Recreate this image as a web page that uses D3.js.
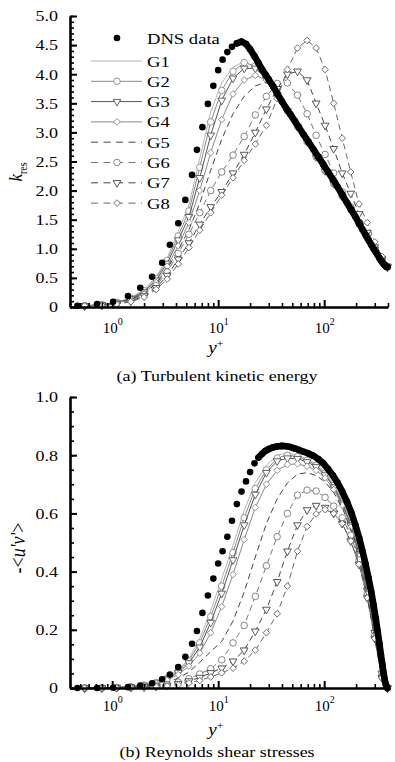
<!DOCTYPE html>
<html>
<head>
<meta charset="utf-8">
<script src="https://cdn.jsdelivr.net/npm/d3@7"></script>
<style>
  html, body { margin: 0; padding: 0; background: #fff; }
  svg { display: block; font-family: "Liberation Serif", "Times New Roman", serif; }
</style>
</head>
<body>
<div id="container"></div>
<script>
// DNS data (same wall-normal points in both panels)
var dnsYPlus = [0.47, 0.72, 1.02, 1.41, 1.84, 2.38, 2.96, 3.5, 4.2, 4.9, 5.67, 6.3, 7.1, 8.0, 9.0, 10, 11, 12.2, 13.5, 15,
  16.6, 18.3, 20, 22, 24, 26, 28, 30, 33, 36, 40, 44, 48, 53, 58, 64, 71, 79, 88, 98,
  109, 121, 134, 148, 164, 180, 197, 214, 230, 246, 262, 278, 293, 307, 320, 332, 343, 354, 364, 373, 381, 388, 395];
var dnsK = [0.02, 0.05, 0.09, 0.19, 0.33, 0.52, 0.76, 1.07, 1.44, 1.84, 2.27, 2.70, 3.09, 3.49, 3.80, 4.07, 4.25, 4.38, 4.47, 4.53,
  4.56, 4.52, 4.43, 4.31, 4.19, 4.08, 3.99, 3.91, 3.79, 3.67, 3.53, 3.41, 3.31, 3.19, 3.08, 2.96, 2.84, 2.71, 2.58, 2.45,
  2.32, 2.19, 2.06, 1.93, 1.79, 1.67, 1.55, 1.43, 1.33, 1.24, 1.15, 1.07, 1.00, 0.94, 0.89, 0.84, 0.80, 0.77, 0.74, 0.72, 0.70, 0.69, 0.69];
var dnsUV = [0, 0, 0.001, 0.003, 0.008, 0.016, 0.03, 0.046, 0.072, 0.107, 0.152, 0.196, 0.258, 0.318, 0.376, 0.428, 0.47, 0.52, 0.575, 0.632,
  0.675, 0.71, 0.742, 0.772, 0.792, 0.805, 0.815, 0.821, 0.827, 0.83, 0.832, 0.831, 0.828, 0.823, 0.818, 0.812, 0.806, 0.798, 0.787, 0.772,
  0.752, 0.73, 0.705, 0.675, 0.64, 0.603, 0.56, 0.515, 0.47, 0.425, 0.378, 0.33, 0.283, 0.237, 0.193, 0.152, 0.114, 0.08, 0.05, 0.028, 0.013, 0.005, 0];

// LES grid points
var lesYPlus = [0.55, 0.8, 1.1, 1.5, 2.0, 2.6, 3.3, 4.2, 5.3, 6.7, 8.5, 10.8, 13.8, 17.6, 22.4,
  28.5, 36, 45, 56, 69, 84, 102, 123, 148, 178, 213, 255, 300, 350, 395];

// k_res
var g1K = [0.02, 0.04, 0.08, 0.16, 0.30, 0.52, 0.84, 1.30, 1.75, 2.55, 3.35, 3.85, 4.12, 4.22, 4.12, 3.92, 3.64, 3.37, 3.10, 2.84, 2.58, 2.34, 2.12, 1.90, 1.67, 1.43, 1.19, 0.99, 0.81, 0.68];
var g2K = [0.02, 0.04, 0.08, 0.15, 0.28, 0.49, 0.80, 1.22, 1.65, 2.40, 3.18, 3.72, 4.05, 4.20, 4.14, 3.93, 3.65, 3.37, 3.10, 2.84, 2.58, 2.34, 2.12, 1.90, 1.67, 1.43, 1.19, 0.99, 0.81, 0.68];
var g3K = [0.02, 0.04, 0.07, 0.14, 0.26, 0.46, 0.75, 1.15, 1.55, 2.22, 2.95, 3.55, 3.93, 4.10, 4.10, 3.92, 3.65, 3.37, 3.10, 2.84, 2.58, 2.34, 2.12, 1.90, 1.67, 1.43, 1.19, 0.99, 0.81, 0.68];
var g4K = [0.02, 0.04, 0.07, 0.13, 0.24, 0.42, 0.70, 1.05, 1.45, 2.00, 2.65, 3.22, 3.66, 3.90, 3.98, 3.90, 3.66, 3.38, 3.11, 2.85, 2.59, 2.35, 2.12, 1.90, 1.67, 1.43, 1.19, 0.99, 0.81, 0.68];
var g5K = [0.02, 0.04, 0.07, 0.13, 0.23, 0.40, 0.65, 0.98, 1.33, 1.78, 2.35, 2.88, 3.32, 3.62, 3.80, 3.86, 3.72, 3.44, 3.14, 2.86, 2.60, 2.36, 2.13, 1.91, 1.68, 1.44, 1.20, 0.99, 0.81, 0.68];
var g6K = [0.02, 0.03, 0.06, 0.12, 0.21, 0.37, 0.60, 0.92, 1.25, 1.62, 2.00, 2.32, 2.61, 2.93, 3.30, 3.62, 3.84, 3.85, 3.64, 3.32, 2.95, 2.62, 2.30, 1.98, 1.72, 1.46, 1.21, 1.00, 0.82, 0.69];
var g7K = [0.02, 0.03, 0.05, 0.10, 0.19, 0.33, 0.54, 0.82, 1.10, 1.42, 1.72, 1.98, 2.30, 2.62, 3.00, 3.40, 3.75, 4.00, 4.05, 3.90, 3.50, 3.12, 2.72, 2.30, 1.95, 1.60, 1.28, 1.03, 0.83, 0.70];
var g8K = [0.02, 0.03, 0.05, 0.09, 0.17, 0.30, 0.48, 0.74, 1.02, 1.32, 1.62, 1.92, 2.22, 2.52, 2.80, 3.12, 3.58, 4.08, 4.45, 4.58, 4.45, 4.08, 3.50, 2.90, 2.32, 1.77, 1.45, 1.12, 0.87, 0.70];

// -<u'v'>
var g1UV = [0, 0.001, 0.002, 0.005, 0.011, 0.02, 0.036, 0.062, 0.10, 0.17, 0.265, 0.375, 0.49, 0.61, 0.705, 0.765, 0.80, 0.808, 0.80, 0.788, 0.77, 0.742, 0.70, 0.645, 0.57, 0.47, 0.345, 0.20, 0.06, 0];
var g2UV = [0, 0.001, 0.002, 0.005, 0.01, 0.019, 0.034, 0.058, 0.094, 0.155, 0.245, 0.35, 0.465, 0.585, 0.685, 0.75, 0.79, 0.80, 0.795, 0.783, 0.765, 0.737, 0.695, 0.64, 0.565, 0.465, 0.34, 0.195, 0.055, 0];
var g3UV = [0, 0.001, 0.002, 0.004, 0.009, 0.017, 0.031, 0.053, 0.086, 0.14, 0.225, 0.325, 0.44, 0.56, 0.665, 0.74, 0.78, 0.79, 0.788, 0.777, 0.76, 0.732, 0.69, 0.635, 0.56, 0.46, 0.335, 0.19, 0.05, 0];
var g4UV = [0, 0.001, 0.002, 0.004, 0.008, 0.015, 0.027, 0.046, 0.075, 0.12, 0.19, 0.28, 0.39, 0.51, 0.62, 0.70, 0.748, 0.768, 0.77, 0.762, 0.748, 0.722, 0.682, 0.628, 0.553, 0.452, 0.328, 0.185, 0.045, 0];
var g5UV = [0, 0, 0.001, 0.003, 0.006, 0.011, 0.02, 0.034, 0.055, 0.088, 0.125, 0.16, 0.23, 0.33, 0.45, 0.565, 0.65, 0.705, 0.735, 0.74, 0.73, 0.708, 0.672, 0.62, 0.545, 0.445, 0.32, 0.175, 0.04, 0];
var g6UV = [0, 0, 0.001, 0.002, 0.004, 0.007, 0.012, 0.02, 0.032, 0.048, 0.066, 0.097, 0.155, 0.215, 0.315, 0.42, 0.52, 0.60, 0.663, 0.68, 0.677, 0.655, 0.625, 0.585, 0.525, 0.44, 0.32, 0.18, 0.04, 0];
var g7UV = [0, 0, 0.001, 0.002, 0.003, 0.005, 0.009, 0.015, 0.024, 0.036, 0.052, 0.068, 0.092, 0.13, 0.195, 0.27, 0.365, 0.47, 0.56, 0.612, 0.627, 0.62, 0.60, 0.565, 0.505, 0.425, 0.31, 0.17, 0.035, 0];
var g8UV = [0, 0, 0, 0.001, 0.002, 0.004, 0.007, 0.011, 0.017, 0.026, 0.038, 0.052, 0.068, 0.092, 0.13, 0.19, 0.255, 0.35, 0.47, 0.555, 0.598, 0.613, 0.60, 0.565, 0.505, 0.425, 0.31, 0.17, 0.035, 0];

var seriesNames = ['G1', 'G2', 'G3', 'G4', 'G5', 'G6', 'G7', 'G8'];
var kTicks = [0, 0.5, 1.0, 1.5, 2.0, 2.5, 3.0, 3.5, 4.0, 4.5, 5.0];
var uvTicks = [0, 0.2, 0.4, 0.6, 0.8, 1.0];
var xTicks = [1, 10, 100];

// Size variables
var width = 395;
var height = 762;
var sx = 1.2; // lettering in the source is a bit wide

var svg = d3.select('#container')
  .append('svg')
  .attr('width', width)
  .attr('height', height);

var xScale = d3.scaleLog().domain([0.4, 400]).range([70, 388]);

// Line / marker look of G1..G8
var styles = [
  { color: '#b4b4b4', dash: null, symbol: null },
  { color: '#8a8a8a', dash: null, symbol: 'circle' },
  { color: '#555555', dash: null, symbol: 'triangle' },
  { color: '#8a8a8a', dash: null, symbol: 'diamond' },
  { color: '#444444', dash: '6,4', symbol: null },
  { color: '#777777', dash: '6,4', symbol: 'circle' },
  { color: '#444444', dash: '6,4', symbol: 'triangle' },
  { color: '#666666', dash: '6,4', symbol: 'diamond' }
];

function symbolPath(type) {
  if (type === 'circle') return d3.symbol(d3.symbolCircle, 34)();
  if (type === 'triangle') return d3.symbol(d3.symbolTriangle, 26)();
  return d3.symbol(d3.symbolSquare, 22)();
}
function symbolRotate(type) {
  return type === 'triangle' ? 180 : (type === 'diamond' ? 45 : 0);
}

function addText(parent, x, y, str, size, anchor) {
  return parent.append('text')
    .attr('transform', `translate(${x},${y}) scale(${sx},1)`)
    .attr('text-anchor', anchor || 'start')
    .style('font-size', size + 'px')
    .text(str);
}

function drawPanel(cfg) {
  var g = svg.append('g');
  var y = cfg.yScale;
  var x0 = xScale.range()[0];
  var y0 = y.range()[0];
  var line = d3.line().x((d) => xScale(d[0])).y((d) => y(d[1]));

  // LES curves
  cfg.les.forEach((vals, i) => {
    var st = styles[i];
    var pts = lesYPlus.map((yp, j) => [yp, vals[j]]);
    g.append('path')
      .attr('d', line(pts))
      .attr('fill', 'none')
      .attr('stroke', st.color)
      .attr('stroke-width', 1)
      .attr('stroke-dasharray', st.dash);
    if (st.symbol) {
      g.selectAll(null)
        .data(pts)
        .enter().append('path')
        .attr('d', symbolPath(st.symbol))
        .attr('transform', (d) => `translate(${xScale(d[0])},${y(d[1])}) rotate(${symbolRotate(st.symbol)})`)
        .attr('fill', '#fff')
        .attr('stroke', st.color)
        .attr('stroke-width', 0.9);
    }
  });

  // DNS: dense part drawn as a band, plus the dots
  var dns = dnsYPlus.map((yp, j) => [yp, cfg.dns[j]]);
  g.append('path')
    .attr('d', line(dns.filter((d) => d[0] >= cfg.bandFrom)))
    .attr('fill', 'none')
    .attr('stroke', '#000')
    .attr('stroke-width', 6.6)
    .attr('stroke-linecap', 'round')
    .attr('stroke-linejoin', 'round');
  g.selectAll('.dns')
    .data(dns)
    .enter().append('circle')
    .attr('class', 'dns')
    .attr('cx', (d) => xScale(d[0]))
    .attr('cy', (d) => y(d[1]))
    .attr('r', 3.3)
    .attr('fill', '#000');

  // Y Axis
  g.append('g')
    .attr('transform', `translate(${x0},0)`)
    .call(d3.axisLeft(y).tickValues(cfg.minorTicks).tickSizeInner(-4).tickSizeOuter(0).tickFormat(''))
    .call((a) => a.select('.domain').remove())
    .selectAll('line').attr('stroke-width', 1.6);
  var yAx = g.append('g')
    .attr('transform', `translate(${x0},0)`)
    .call(d3.axisLeft(y).tickValues(cfg.ticks).tickSizeInner(-7).tickSizeOuter(0).tickPadding(10)
      .tickFormat((d) => d === 0 ? '0' : d3.format('.1f')(d)))
    .attr('font-family', null)
    .attr('font-size', null);
  yAx.select('.domain').attr('stroke-width', 2.6);
  yAx.selectAll('line').attr('stroke-width', 2);
  yAx.selectAll('text')
    .attr('transform', `scale(${sx},1)`)
    .style('font-size', '15px')
    .attr('fill', '#000');

  // X Axis
  g.append('g')
    .attr('transform', `translate(0,${y0})`)
    .call(d3.axisBottom(xScale).tickValues(xScale.ticks().filter((t) => xTicks.indexOf(t) < 0))
      .tickSizeInner(-4).tickSizeOuter(0).tickFormat(''))
    .call((a) => a.select('.domain').remove())
    .selectAll('line').attr('stroke-width', 1.6);
  var xAx = g.append('g')
    .attr('transform', `translate(0,${y0})`)
    .call(d3.axisBottom(xScale).tickValues(xTicks).tickSizeInner(-7).tickSizeOuter(0)
      .tickPadding(cfg.xPad).tickFormat(''))
    .attr('font-family', null)
    .attr('font-size', null);
  xAx.select('.domain').attr('stroke-width', 2.6);
  xAx.selectAll('line').attr('stroke-width', 2);
  xAx.selectAll('.tick text')
    .style('font-size', '15px')
    .attr('fill', '#000')
    .each(function (d) {
      var t = d3.select(this);
      t.append('tspan').text('10');
      t.append('tspan').attr('dy', -8).style('font-size', '10px').text(Math.round(Math.log10(d)));
    });

  // y+ label
  var yl = addText(g, 216, cfg.xLabelY, '', 16, 'middle');
  yl.append('tspan').style('font-style', 'italic').text('y');
  yl.append('tspan').attr('dy', -6).style('font-size', '10px').text('+');

  // Caption
  addText(g, 217, cfg.captionY, cfg.caption, 15, 'middle');
  return g;
}

// (a) Turbulent kinetic energy
var kScale = d3.scaleLinear().domain([0, 5]).range([307, 16]);
var gA = drawPanel({
  yScale: kScale,
  ticks: kTicks,
  minorTicks: d3.range(0, 5.001, 0.1),
  dns: dnsK,
  les: [g1K, g2K, g3K, g4K, g5K, g6K, g7K, g8K],
  bandFrom: 15,
  xPad: 15,
  xLabelY: 353,
  captionY: 381,
  caption: '(a) Turbulent kinetic energy'
});

var kLabel = gA.append('text')
  .attr('transform', 'translate(22,172) rotate(-90) scale(1,1.15)')
  .attr('text-anchor', 'middle')
  .style('font-size', '17px');
kLabel.append('tspan').style('font-style', 'italic').text('k');
kLabel.append('tspan').attr('dy', 4).style('font-size', '10px').text('res');

// Legend
var legend = gA.append('g');
legend.append('circle').attr('cx', 117).attr('cy', 38).attr('r', 3.3).attr('fill', '#000');
addText(legend, 147, 43.5, 'DNS data', 15.5, 'start');
var items = legend.selectAll('.legend')
  .data(seriesNames)
  .enter().append('g')
  .attr('class', 'legend')
  .attr('transform', (d, i) => `translate(0, ${61 + i * 20.3})`);
items.append('line')
  .attr('x1', 91).attr('x2', 142)
  .attr('stroke', (d, i) => styles[i].color)
  .attr('stroke-width', 1)
  .attr('stroke-dasharray', (d, i) => styles[i].dash ? '7,5.5' : null);
items.filter((d, i) => styles[i].symbol)
  .append('path')
  .attr('d', (d) => symbolPath(styles[seriesNames.indexOf(d)].symbol))
  .attr('transform', (d) => `translate(117,0) rotate(${symbolRotate(styles[seriesNames.indexOf(d)].symbol)})`)
  .attr('fill', '#fff')
  .attr('stroke', (d) => styles[seriesNames.indexOf(d)].color)
  .attr('stroke-width', 0.9);
items.each(function (d) {
  addText(d3.select(this), 147, 5.5, d, 15.5, 'start');
});

// (b) Reynolds shear stresses
var uvScale = d3.scaleLinear().domain([0, 1]).range([688, 397]);
var gB = drawPanel({
  yScale: uvScale,
  ticks: uvTicks,
  minorTicks: d3.range(0, 1.001, 0.05),
  dns: dnsUV,
  les: [g1UV, g2UV, g3UV, g4UV, g5UV, g6UV, g7UV, g8UV],
  bandFrom: 24,
  xPad: 12,
  xLabelY: 735,
  captionY: 757,
  caption: '(b) Reynolds shear stresses'
});

var uvLabel = gB.append('text')
  .attr('transform', 'translate(25,548) rotate(-90) scale(1,1.15)')
  .attr('text-anchor', 'middle')
  .style('font-size', '18px');
uvLabel.append('tspan').text('-<');
uvLabel.append('tspan').style('font-style', 'italic').text("u'v'");
uvLabel.append('tspan').text('>');
</script>
</body>
</html>
